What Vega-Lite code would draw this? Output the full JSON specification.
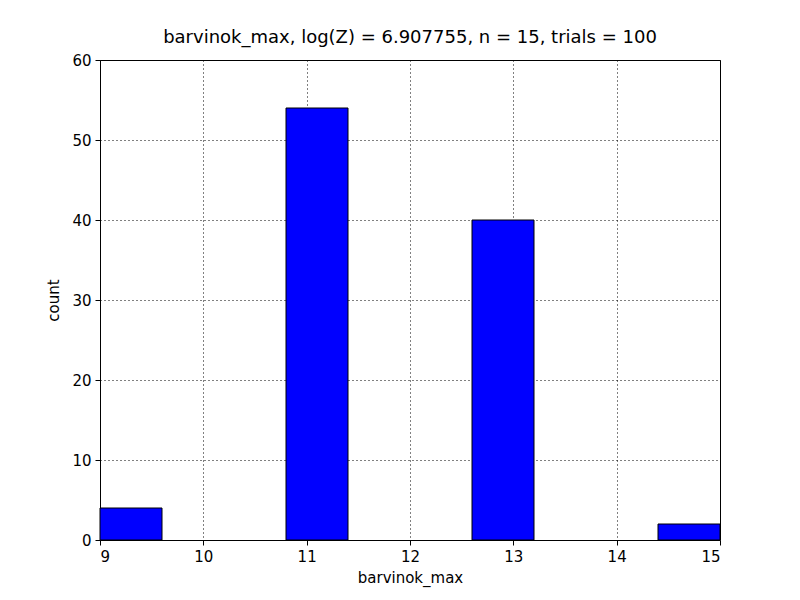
{
  "$schema": "https://vega.github.io/schema/vega-lite/v6.json",
  "autosize": {"type": "none"},
  "width": 620,
  "height": 480,
  "padding": {"left": 100, "top": 60, "right": 80, "bottom": 60},
  "background": "white",
  "config": {
    "font": "DejaVu Sans",
    "view": {"stroke": "black", "strokeWidth": 1},
    "axis": {
      "labelFontSize": 15, "titleFontSize": 15, "labelColor": "black", "titleColor": "black",
      "titleFontWeight": "normal", "grid": true, "gridColor": "black", "gridDash": [1, 3],
      "gridOpacity": 1, "domain": false, "tickColor": "black", "tickSize": 5, "labelPadding": 4
    }
  },
  "title": {"text": "barvinok_max, log(Z) = 6.907755, n = 15, trials = 100", "fontSize": 18, "fontWeight": "normal", "offset": 6, "color": "black"},
  "data": {"values": [
    {"start": 9.0, "end": 9.6, "count": 4},
    {"start": 10.8, "end": 11.4, "count": 54},
    {"start": 12.6, "end": 13.2, "count": 40},
    {"start": 14.4, "end": 15.0, "count": 2}
  ]},
  "mark": {"type": "rect", "fill": "#0000ff", "stroke": "black", "strokeWidth": 1},
  "encoding": {
    "x": {"field": "start", "type": "quantitative", "scale": {"domain": [9, 15], "nice": false}, "axis": {"values": [9, 10, 11, 12, 13, 14, 15], "title": "barvinok_max", "titlePadding": 6}},
    "x2": {"field": "end"},
    "y": {"field": "count", "type": "quantitative", "scale": {"domain": [0, 60], "nice": false}, "axis": {"values": [0, 10, 20, 30, 40, 50, 60], "title": "count", "titlePadding": 10}},
    "y2": {"datum": 0}
  }
}
